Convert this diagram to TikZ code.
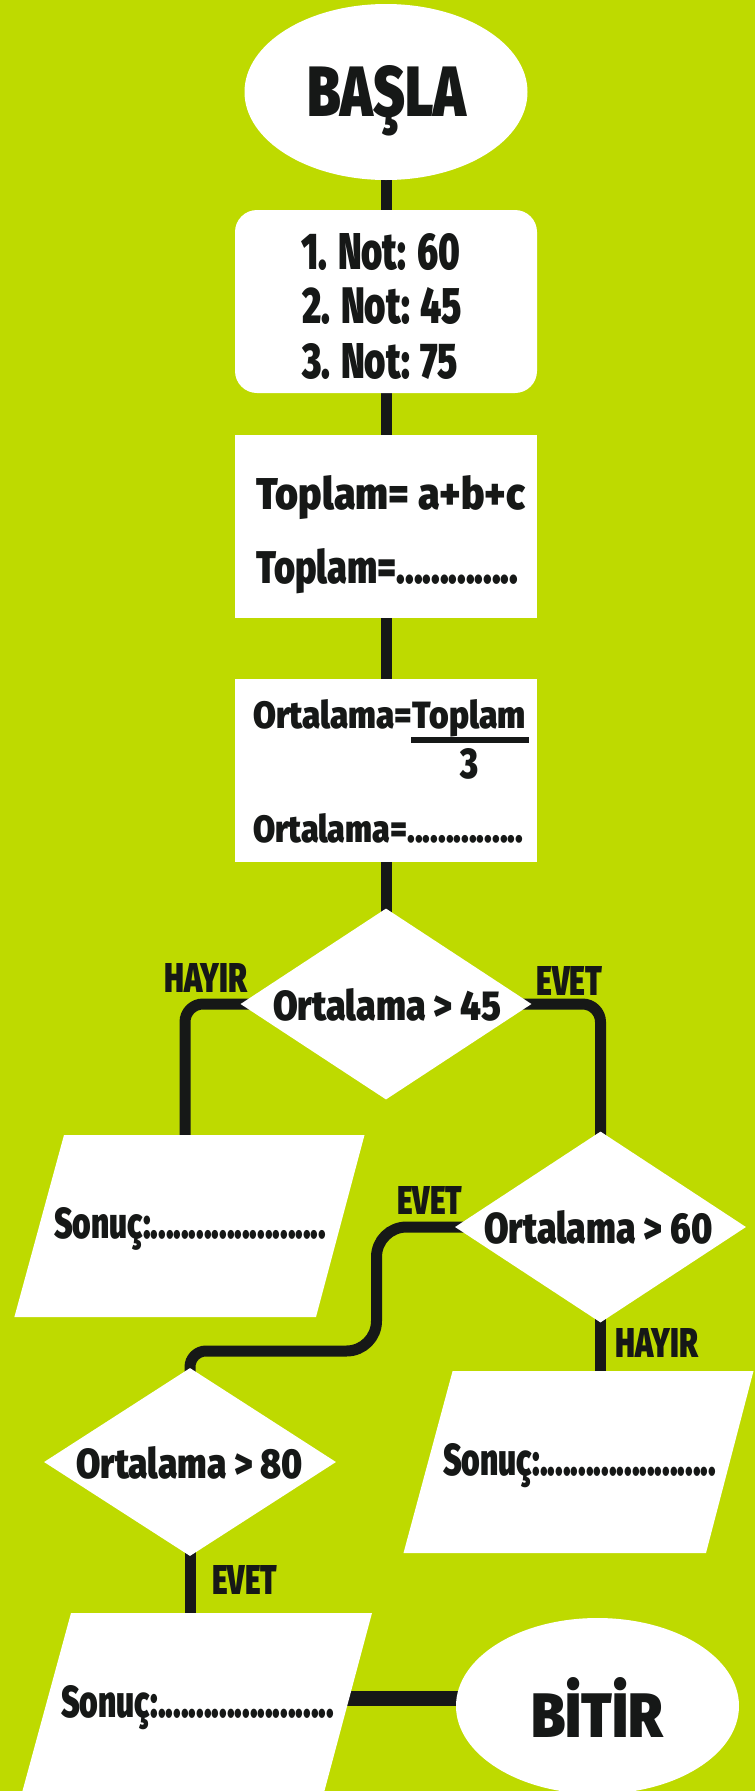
\documentclass[tikz,border=0pt]{standalone}
\usepackage{fontspec}
\usepackage{graphicx}
\usetikzlibrary{shapes.geometric}
\newfontfamily\imp{Fira Sans}[UprightFont={* Black}]
\definecolor{bggreen}{RGB}{190,218,0}
\definecolor{ink}{RGB}{22,24,23}
\newcommand\fitt[3]{\resizebox{#1pt}{#2pt}{\fontsize{40}{40}\selectfont #3}}
\pgfdeclarelayer{back}
\pgfdeclarelayer{lines}
\pgfsetlayers{back,lines,main}
\tikzset{
  conn/.style={draw=ink, line width=11pt},
  txt/.style={inner sep=0pt, text=ink, font=\imp},
  term/.style={ellipse, fill=white, minimum width=283pt, minimum height=176pt, inner sep=0pt},
  dec/.style={diamond, fill=white, minimum width=291pt, minimum height=191pt, inner sep=0pt},
  procbox/.style={fill=white, minimum width=302pt, minimum height=183pt, inner sep=0pt},
  iobox/.style={fill=white},
}
\begin{document}
\begin{tikzpicture}[x=1pt,y=-1pt]
\begin{pgfonlayer}{back}
\fill[bggreen] (0,0) rectangle (755,1791);
\end{pgfonlayer}
\useasboundingbox (0,0) rectangle (755,1791);

% shapes
\node[term] (basla) at (386,92) {};
\node[procbox, rounded corners=22pt] (b1) at (386,301.5) {};
\node[procbox] (b2) at (386,526.5) {};
\node[procbox] (b3) at (386,770.5) {};
\node[dec] (d1) at (386,1004) {};
\node[dec] (d2) at (600.5,1227) {};
\node[dec, minimum width=292pt, minimum height=188pt] (d3) at (190,1462) {};
\node[term] (bitir) at (597.5,1706) {};
\fill[iobox] (64,1135) -- (364.5,1135) -- (316,1317) -- (14.4,1317) -- cycle;
\fill[iobox] (452.6,1371) -- (753.5,1371) -- (706,1553) -- (403.5,1553) -- cycle;
\fill[iobox] (71,1613) -- (372,1613) -- (322,1800) -- (20,1800) -- cycle;
\coordinate (s1c) at (190,1226);
\coordinate (s2c) at (578.5,1462);
\coordinate (s3c) at (196,1702);
\coordinate (j) at (300,1698.5);

% connectors
\begin{pgfonlayer}{lines}
\draw[conn] (basla.center) -- (b1.center);
\draw[conn] (b1.center) -- (b2.center);
\draw[conn] (b2.center) -- (b3.center);
\draw[conn] (b3.center) -- (d1.center);
\draw[conn, rounded corners=18pt] (d1.center) -| (185,1226);
\draw[conn, rounded corners=18pt] (d1.center) -| (d2.center);
\draw[conn] (d2.center) [rounded corners=30pt] -- (376.5,1227) -- (376.5,1351) [rounded corners=16pt] -- (190,1351) -- (d3.center);
\draw[conn] (d2.center) -- (d2.center |- s2c);
\draw[conn] (d3.center) -- (d3.center |- s3c);
\draw[conn, line width=15pt] (j) -- (j -| bitir.center);
\end{pgfonlayer}

% texts
\node[txt, anchor=base west] (tbasla) at (307,116) {\fitt{159}{51}{BAŞLA}};
\node[txt, anchor=base west] (n1) at (301,269) {\fitt{159}{36}{1. Not: 60}};
\node[txt, anchor=base west] (n2) at (302,323) {\fitt{160}{36}{2. Not: 45}};
\node[txt, anchor=base west] (n3) at (302,378) {\fitt{156}{35}{3. Not: 75}};
\node[txt, anchor=base west] (t1) at (256,509) {\fitt{269}{34}{Toplam= a+b+c}};
\node[txt, anchor=base west] (t2) at (256,583) {\fitt{262}{35}{Toplam=..............}};
\node[txt, anchor=base west] (o1) at (253,728) {\fitt{159}{29}{Ortalama=}};
\node[txt, anchor=base west] (o1b) at (412.5,728) {\fitt{113}{29}{Toplam}};
\fill[ink] (411,737) rectangle (529,743);
\node[txt, anchor=base west] (o3) at (460,778) {\fitt{18}{30}{3}};
\node[txt, anchor=base west] (o2) at (253,842) {\fitt{270}{29}{Ortalama=...............}};
\node[txt, anchor=base west] (q1) at (273,1020) {\fitt{228}{32}{Ortalama > 45}};
\node[txt, anchor=base west] (q2) at (484,1243) {\fitt{228.5}{33}{Ortalama > 60}};
\node[txt, anchor=base west] (q3) at (76,1478) {\fitt{227}{32}{Ortalama > 80}};
\node[txt, anchor=base west] (h1) at (164,992) {\fitt{83}{29}{HAYIR}};
\node[txt, anchor=base west] (e1) at (536,995) {\fitt{66}{29}{EVET}};
\node[txt, anchor=base west] (e2) at (397,1214) {\fitt{65}{28}{EVET}};
\node[txt, anchor=base west] (h2) at (615,1357) {\fitt{83}{29}{HAYIR}};
\node[txt, anchor=base west] (e3) at (212,1594) {\fitt{65}{29}{EVET}};
\node[txt, anchor=base west] (s1) at (54,1238) {\fitt{272}{31}{Sonuç:.......................}};
\node[txt, anchor=base west] (s2) at (443,1475) {\fitt{273}{32}{Sonuç:.......................}};
\node[txt, anchor=base west] (s3) at (61,1717) {\fitt{273}{32}{Sonuç:.......................}};
\node[txt, anchor=base west] (tbitir) at (531,1737) {\fitt{132}{60}{BİTİR}};
\end{tikzpicture}
\end{document}
